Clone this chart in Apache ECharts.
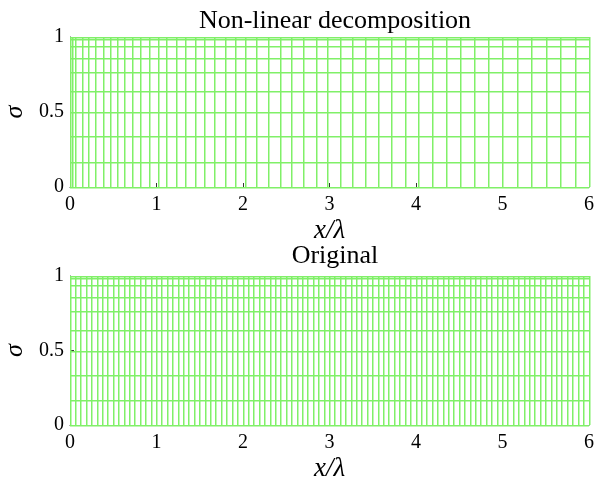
<!DOCTYPE html>
<html><head><meta charset="utf-8">
<script src="https://cdn.jsdelivr.net/npm/echarts@6/dist/echarts.min.js"></script>
<style>html,body{margin:0;padding:0;background:#fff}#c{width:594px;height:484px}</style>
</head><body><div id="c"></div>
<script>
const titles = ['Non-linear decomposition', 'Original'];
const xTickLabels = ['0','1','2','3','4','5','6'];
const yTickLabels = ['0','0.5','1'];
const sigmaLevels = [0, 0.165, 0.335, 0.495, 0.636, 0.763, 0.859, 0.937, 0.982, 1];
const xNonlinear = [0, 0.025, 0.064, 0.141, 0.217, 0.298, 0.384, 0.465, 0.549, 0.634, 0.723, 0.815, 0.916,
  1.020, 1.119, 1.228, 1.335, 1.447, 1.558, 1.674, 1.794, 1.913, 2.029, 2.160, 2.295, 2.430, 2.564,
  2.703, 2.846, 2.980, 3.127, 3.269, 3.416, 3.566, 3.720, 3.875, 4.029, 4.187, 4.349, 4.511, 4.676,
  4.838, 5.003, 5.170, 5.335, 5.505, 5.671, 5.840, 6.0];
const xOriginal = [0, 0.0625, 0.125, 0.1875, 0.25, 0.3125, 0.375, 0.4375, 0.5, 0.5625, 0.625, 0.6875,
  0.75, 0.8125, 0.875, 0.9375, 1, 1.0625, 1.125, 1.1875, 1.25, 1.3125, 1.375, 1.4375, 1.5, 1.5625,
  1.625, 1.6875, 1.75, 1.8125, 1.875, 1.9375, 2, 2.0625, 2.125, 2.1875, 2.25, 2.3125, 2.375, 2.4375,
  2.5, 2.5625, 2.625, 2.6875, 2.75, 2.8125, 2.875, 2.9375, 3, 3.0625, 3.125, 3.1875, 3.25, 3.3125,
  3.375, 3.4375, 3.5, 3.5625, 3.625, 3.6875, 3.75, 3.8125, 3.875, 3.9375, 4, 4.0625, 4.125, 4.1875,
  4.25, 4.3125, 4.375, 4.4375, 4.5, 4.5625, 4.625, 4.6875, 4.75, 4.8125, 4.875, 4.9375, 5, 5.0625,
  5.125, 5.1875, 5.25, 5.3125, 5.375, 5.4375, 5.5, 5.5625, 5.625, 5.6875, 5.75, 5.8125, 5.875,
  5.9375, 6];

const GREEN = '#80f068';
const FONT = 'Liberation Serif';
const chart = echarts.init(document.getElementById('c'));

function snap(v){ return Math.round(v - 0.5) + 0.75; }

function vRender(params, api){
  const x = api.value(0);
  const p0 = api.coord([x, 0]), p1 = api.coord([x, 1]);
  const px = snap(p0[0]);
  return {type: 'line', shape: {x1: px, y1: p0[1], x2: px, y2: p1[1]},
    style: {stroke: GREEN, lineWidth: 1.5}, silent: true};
}
function hRender(params, api){
  const y = api.value(1);
  const p0 = api.coord([0, y]), p1 = api.coord([6, y]);
  const py = snap(p0[1]);
  return {type: 'line', shape: {x1: p0[0], y1: py, x2: p1[0], y2: py},
    style: {stroke: GREEN, lineWidth: 1.5}, silent: true};
}

const grids = [
  {left: 70, right: 5, top: 37, height: 150, containLabel: false, outerBoundsMode: 'none'},
  {left: 70, right: 5, top: 276, height: 149, containLabel: false, outerBoundsMode: 'none'}
];
const xAxes = [], yAxes = [], series = [];
[xNonlinear, xOriginal].forEach((xs, i) => {
  xAxes.push({
    gridIndex: i, type: 'value', min: 0, max: 6, interval: 1,
    name: 'x/λ', nameLocation: 'middle', nameGap: 30,
    nameTextStyle: {fontFamily: FONT, fontStyle: 'italic', fontSize: 27, color: '#000'},
    axisLine: {show: true, lineStyle: {color: '#333', width: 1}},
    axisTick: {show: true, inside: true, length: 4, lineStyle: {color: '#333'}},
    axisLabel: {fontFamily: FONT, fontSize: 20, color: '#000', margin: 8,
      formatter: v => xTickLabels[Math.round(v)]},
    splitLine: {show: false}
  });
  xAxes.push({
    gridIndex: i, type: 'value', min: 0, max: 6, interval: 1, position: 'top',
    axisLine: {show: true, lineStyle: {color: '#bbb', width: 1, type: 'dotted'}},
    axisTick: {show: false}, axisLabel: {show: false}, splitLine: {show: false}
  });
  yAxes.push({
    gridIndex: i, type: 'value', min: 0, max: 1, interval: 0.5,
    name: 'σ', nameLocation: 'middle', nameGap: 42, nameRotate: 90,
    nameTextStyle: {fontFamily: FONT, fontStyle: 'italic', fontSize: 26, color: '#000'},
    axisLine: {show: true, lineStyle: {color: '#333', width: 1}},
    axisTick: {show: true, inside: true, length: 4, lineStyle: {color: '#333'}},
    axisLabel: {fontFamily: FONT, fontSize: 20, color: '#000', margin: 6,
      formatter: v => yTickLabels[Math.round(v * 2)]},
    splitLine: {show: false}
  });
  yAxes.push({
    gridIndex: i, type: 'value', min: 0, max: 1, interval: 0.5, position: 'right',
    axisLine: {show: true, lineStyle: {color: '#bbb', width: 1, type: 'dotted'}},
    axisTick: {show: false}, axisLabel: {show: false}, splitLine: {show: false}
  });
  series.push({
    type: 'custom', xAxisIndex: 2 * i, yAxisIndex: 2 * i, silent: true, animation: false,
    renderItem: vRender, encode: {x: 0, y: 1}, clip: false,
    data: xs.map(x => [x, 0])
  });
  series.push({
    type: 'custom', xAxisIndex: 2 * i, yAxisIndex: 2 * i, silent: true, animation: false,
    renderItem: hRender, encode: {x: 0, y: 1}, clip: false,
    data: sigmaLevels.map(y => [0, y])
  });
});

chart.setOption({
  animation: false,
  backgroundColor: '#fff',
  title: [
    {text: titles[0], left: 330, top: 3, textAlign: 'center',
     textStyle: {fontFamily: FONT, fontWeight: 'normal', fontSize: 26, color: '#000'}},
    {text: titles[1], left: 330, top: 238, textAlign: 'center',
     textStyle: {fontFamily: FONT, fontWeight: 'normal', fontSize: 26, color: '#000'}}
  ],
  grid: grids,
  xAxis: xAxes,
  yAxis: yAxes,
  series: series
});
</script>
</body></html>
